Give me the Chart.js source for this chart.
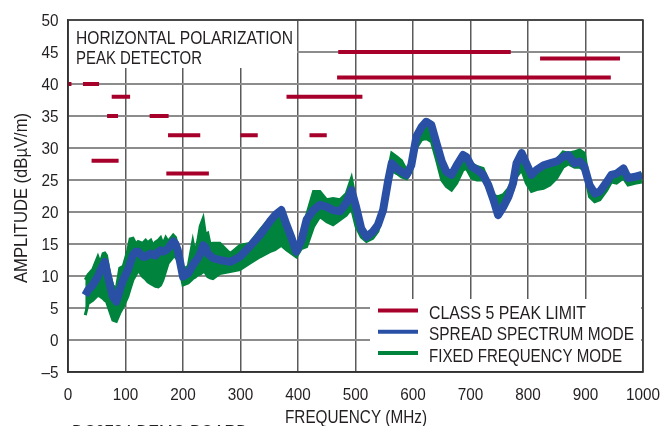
<!DOCTYPE html>
<html>
<head>
<meta charset="utf-8">
<script src="https://cdn.jsdelivr.net/npm/chart.js@4"></script>
<style>
  html, body { margin: 0; padding: 0; background: #fff; }
</style>
</head>
<body>
<canvas id="grafica" width="662" height="426"></canvas>
<script>
// Frecuencias (MHz) de las trazas medidas
const frecuencias = [30, 35, 43, 52, 56, 61, 64, 67, 72, 78, 84, 90, 96, 104, 108, 113, 118, 122, 130, 135,
  139, 144, 148, 152, 157, 161, 165, 170, 174, 183, 187, 191, 200, 209, 217, 221, 226, 230, 235, 239,
  243, 247, 252, 264, 282, 299, 316, 334, 351, 360, 371, 380, 389, 397,
  406, 415, 427, 438, 450, 461, 473, 484, 493, 501, 510, 519, 530, 539, 548, 557, 563, 572, 580, 589,
  597, 606, 615, 623, 632, 641, 650, 658, 667, 676, 687, 693, 702, 711, 722, 731, 740, 748, 757, 766,
  774, 780, 789, 797, 806, 815, 827, 838, 850, 861, 870, 881, 890, 898, 907, 916, 925, 937, 945, 954,
  966, 974, 986, 998];
// Modo espectro ensanchado (azul)
const espectroEnsanchado = [7.0, 7.8, 8.6, 9.9, 10.8, 11.7, 12.2, 11.0, 8.9, 6.8, 6.0, 7.8, 9.4, 10.9, 12.0, 13.3, 13.8, 13.8, 13.0, 13.0,
  13.3, 13.5, 13.3, 13.2, 13.8, 14.0, 13.8, 14.0, 14.3, 15.4, 15.0, 14.0, 9.9, 10.4, 11.7, 12.2, 12.8, 13.5, 14.8, 14.5,
  13.5, 13.2, 12.8, 12.5, 12.2, 13.0, 14.6, 16.4, 18.5, 19.5, 20.3, 18.0, 15.9, 13.8,
  15.6, 18.8, 20.3, 21.1, 20.8, 20.3, 20.1, 21.4, 23.4, 20.8, 17.4, 16.1, 16.9, 18.0, 20.3, 25.0, 27.6, 26.8, 26.3, 25.8,
  27.3, 31.8, 33.3, 34.1, 33.6, 30.7, 27.9, 26.3, 25.8, 27.3, 28.9, 28.6, 27.1, 26.6, 25.8, 24.2, 21.9, 19.5, 20.8, 22.4,
  24.5, 27.6, 29.2, 27.6, 25.8, 26.6, 27.3, 27.6, 27.9, 28.6, 28.9, 27.6, 27.9, 27.1, 24.2, 22.9, 23.2, 24.7, 25.8, 26.0,
  26.8, 25.3, 25.5, 25.8];
// Modo frecuencia fija (verde): envolvente superior e inferior
const fijaAlta = [9.4, 10.2, 11.0, 13.0, 12.0, 13.5, 13.6, 13.2, 10.5, 8.5, 8.0, 11.2, 11.5, 14.0, 15.8, 15.9, 15.0, 15.4, 15.1, 15.6,
  15.2, 15.6, 14.8, 15.3, 15.6, 16.0, 15.0, 16.0, 15.4, 16.4, 16.0, 14.6, 11.0, 11.5, 15.4, 13.5, 15.6, 17.8, 19.0, 16.5,
  16.7, 15.0, 15.1, 15.1, 13.5, 14.8, 15.1, 17.2, 19.0, 19.8, 20.5, 18.5, 16.2, 14.0,
  16.0, 19.5, 23.2, 23.2, 21.9, 22.1, 21.9, 22.9, 25.3, 21.5, 17.8, 16.5, 17.3, 18.4, 21.0, 26.5, 29.2, 28.6, 28.0, 26.5,
  28.0, 32.0, 33.5, 34.3, 33.8, 31.0, 28.2, 26.6, 26.1, 27.6, 29.1, 28.9, 27.6, 27.1, 26.8, 24.8, 22.6, 22.4, 22.7, 23.7,
  25.0, 27.8, 29.4, 27.8, 26.0, 26.8, 27.5, 27.8, 28.2, 29.4, 29.2, 29.4, 29.7, 29.2, 24.5, 23.2, 23.5, 25.0, 26.0, 26.3,
  27.0, 25.5, 25.8, 26.0];
const fijaBaja = [3.9, 5.7, 6.2, 7.0, 6.8, 6.5, 6.2, 6.0, 4.7, 3.1, 2.9, 4.2, 5.2, 6.8, 8.0, 9.4, 10.2, 10.9, 9.9, 9.5,
  9.1, 8.8, 8.6, 8.4, 8.3, 8.6, 9.4, 10.8, 12.0, 13.0, 13.0, 12.5, 8.6, 8.9, 9.6, 9.8, 10.2, 10.3, 10.7, 10.5,
  9.9, 9.7, 9.6, 10.4, 10.7, 11.0, 12.0, 13.0, 13.8, 14.1, 14.8, 14.1, 13.5, 13.0,
  14.3, 14.6, 17.7, 19.3, 18.5, 18.0, 18.8, 19.5, 20.6, 17.7, 16.1, 15.4, 15.9, 17.0, 19.5, 24.0, 26.5, 26.0, 25.5, 25.2,
  26.3, 30.0, 31.3, 31.5, 31.0, 28.1, 25.0, 24.0, 23.4, 24.5, 26.6, 26.8, 25.3, 25.0, 25.0, 23.6, 21.4, 19.5, 20.4, 22.0,
  23.4, 25.5, 26.6, 24.5, 23.2, 23.5, 23.7, 24.2, 25.3, 27.0, 27.5, 27.0, 27.0, 26.5, 22.4, 21.6, 21.9, 23.4, 24.7, 24.5,
  25.3, 24.2, 24.5, 24.7];
// Límite pico clase 5: inicio, fin (MHz) y nivel (dBµV/m)
const limiteInicio = [0, 26, 41, 68, 76, 142, 171, 174, 300, 380, 420, 468, 470, 821];
const limiteFin = [6, 54, 88, 87, 108, 175, 245, 230, 330, 512, 450, 944, 770, 960];
const limiteNivel = [40, 40, 28, 35, 38, 35, 26, 32, 32, 38, 32, 41, 45, 44];

const etiquetasLeyenda = ['CLASS 5 PEAK LIMIT', 'SPREAD SPECTRUM MODE', 'FIXED FREQUENCY MODE'];
const anchosLeyenda = [157, 205, 193];
const coloresLeyenda = ['#a6002b', '#2a50a6', '#00843d'];
const textoCaja = ['HORIZONTAL POLARIZATION', 'PEAK DETECTOR'];
const tituloX = 'FREQUENCY (MHz)';
const tituloY = 'AMPLITUDE (dBµV/m)';
const textoPie = 'DC2784 DEMO BOARD';

const fuente = "'Liberation Sans', Arial, sans-serif";
const colorTexto = '#231f20';

// Arma los segmentos del límite separados por nulos
const puntosLimite = [];
limiteInicio.forEach((ini, i) => {
  puntosLimite.push({ x: ini, y: limiteNivel[i] });
  puntosLimite.push({ x: limiteFin[i], y: limiteNivel[i] });
  puntosLimite.push({ x: limiteFin[i], y: null });
});

const aPuntos = (valores) => frecuencias.map((f, i) => ({ x: f, y: valores[i] }));

// Texto comprimido a lo ancho (la fuente original es condensada)
function textoAjustado(ctx, texto, x, y, ancho) {
  const w = ctx.measureText(texto).width;
  ctx.save();
  ctx.translate(x, y);
  ctx.scale(ancho / w, 1);
  ctx.fillText(texto, 0, 0);
  ctx.restore();
}

function textoComprimido(ctx, texto, x, y, factor, alinear) {
  ctx.save();
  ctx.translate(x, y);
  ctx.scale(factor, 1);
  ctx.textAlign = alinear;
  ctx.fillText(texto, 0, 0);
  ctx.restore();
}

// Plugin para las cajas de texto, las etiquetas y el marco
const cajasPlugin = {
  id: 'cajas',
  beforeDatasetsDraw(chart) {
    const { ctx, chartArea: a, scales } = chart;
    ctx.save();
    ctx.fillStyle = '#fff';
    // caja del titulo
    ctx.fillRect(a.left + 1, a.top + 1, scales.x.getPixelForValue(400) - 1 - a.left - 1, scales.y.getPixelForValue(42.5) - a.top - 1);
    // caja de la leyenda
    ctx.fillRect(370, 299, a.right - 2 - 370, a.bottom - 1 - 299);
    ctx.restore();
  },
  afterDatasetsDraw(chart) {
    const { ctx, chartArea: a, scales } = chart;
    ctx.save();
    ctx.strokeStyle = '#333';
    ctx.lineWidth = 1.5;
    ctx.strokeRect(a.left, a.top, a.width, a.height);

    ctx.fillStyle = colorTexto;
    ctx.textBaseline = 'alphabetic';

    // etiquetas de los ejes
    ctx.font = '17px ' + fuente;
    scales.x.ticks.forEach((t) => {
      textoComprimido(ctx, String(t.value), scales.x.getPixelForValue(t.value), 400, 0.9, 'center');
    });
    scales.y.ticks.forEach((t) => {
      const etiqueta = String(t.value).replace('-', '\u2013');
      textoComprimido(ctx, etiqueta, 58.5, scales.y.getPixelForValue(t.value) + 6, 0.9, 'right');
    });

    ctx.font = '18px ' + fuente;
    textoAjustado(ctx, tituloX, 285, 422.5, 142);
    ctx.save();
    ctx.translate(26.5, 283);
    ctx.rotate(-Math.PI / 2);
    textoAjustado(ctx, tituloY, 0, 0, 170);
    ctx.restore();

    // caja del titulo
    textoAjustado(ctx, textoCaja[0], 76, 43.5, 217);
    textoAjustado(ctx, textoCaja[1], 76, 64, 126);

    // leyenda
    etiquetasLeyenda.forEach((txt, i) => {
      const y = 310.5 + i * 21.3;
      ctx.strokeStyle = coloresLeyenda[i];
      ctx.lineWidth = 4;
      ctx.beginPath();
      ctx.moveTo(378, y);
      ctx.lineTo(418, y);
      ctx.stroke();
      textoAjustado(ctx, txt, 429, y + 8.5, anchosLeyenda[i]);
    });

    // pie cortado
    textoAjustado(ctx, textoPie, 72, 437.5, 176);
    ctx.restore();
  }
};

const ctx = document.getElementById('grafica').getContext('2d');
const miGrafica = new Chart(ctx, {
  type: 'line',
  data: {
    datasets: [
      {
        label: etiquetasLeyenda[0],
        data: puntosLimite,
        borderColor: coloresLeyenda[0],
        borderWidth: 4,
        borderCapStyle: 'butt',
        pointRadius: 0,
        spanGaps: false,
        order: 0
      },
      {
        label: etiquetasLeyenda[1],
        data: aPuntos(espectroEnsanchado),
        borderColor: coloresLeyenda[1],
        borderWidth: 8,
        borderJoinStyle: 'round',
        pointRadius: 0,
        order: 1
      },
      {
        label: 'fija baja',
        data: aPuntos(fijaBaja),
        borderColor: coloresLeyenda[2],
        borderWidth: 3,
        pointRadius: 0,
        order: 3
      },
      {
        label: etiquetasLeyenda[2],
        data: aPuntos(fijaAlta),
        borderColor: coloresLeyenda[2],
        backgroundColor: coloresLeyenda[2],
        borderWidth: 3,
        pointRadius: 0,
        fill: '-1',
        order: 2
      }
    ]
  },
  options: {
    responsive: false,
    animation: false,
    devicePixelRatio: 1,
    layout: { padding: { top: 20, right: 19, left: 0, bottom: 0 } },
    plugins: {
      legend: { display: false },
      tooltip: { enabled: false }
    },
    scales: {
      x: {
        type: 'linear',
        min: 0,
        max: 1000,
        ticks: { stepSize: 100, display: false },
        grid: { color: '#5a5a5a', lineWidth: 1.5, drawTicks: false },
        border: { color: '#333', width: 1.5 },
        afterFit(escala) { escala.height = 54; }
      },
      y: {
        min: -5,
        max: 50,
        ticks: { stepSize: 5, display: false },
        grid: { color: '#8c8c8c', lineWidth: 2, drawTicks: false },
        border: { color: '#333', width: 1.5 },
        afterFit(escala) { escala.width = 68; }
      }
    }
  },
  plugins: [cajasPlugin]
});
</script>
</body>
</html>
